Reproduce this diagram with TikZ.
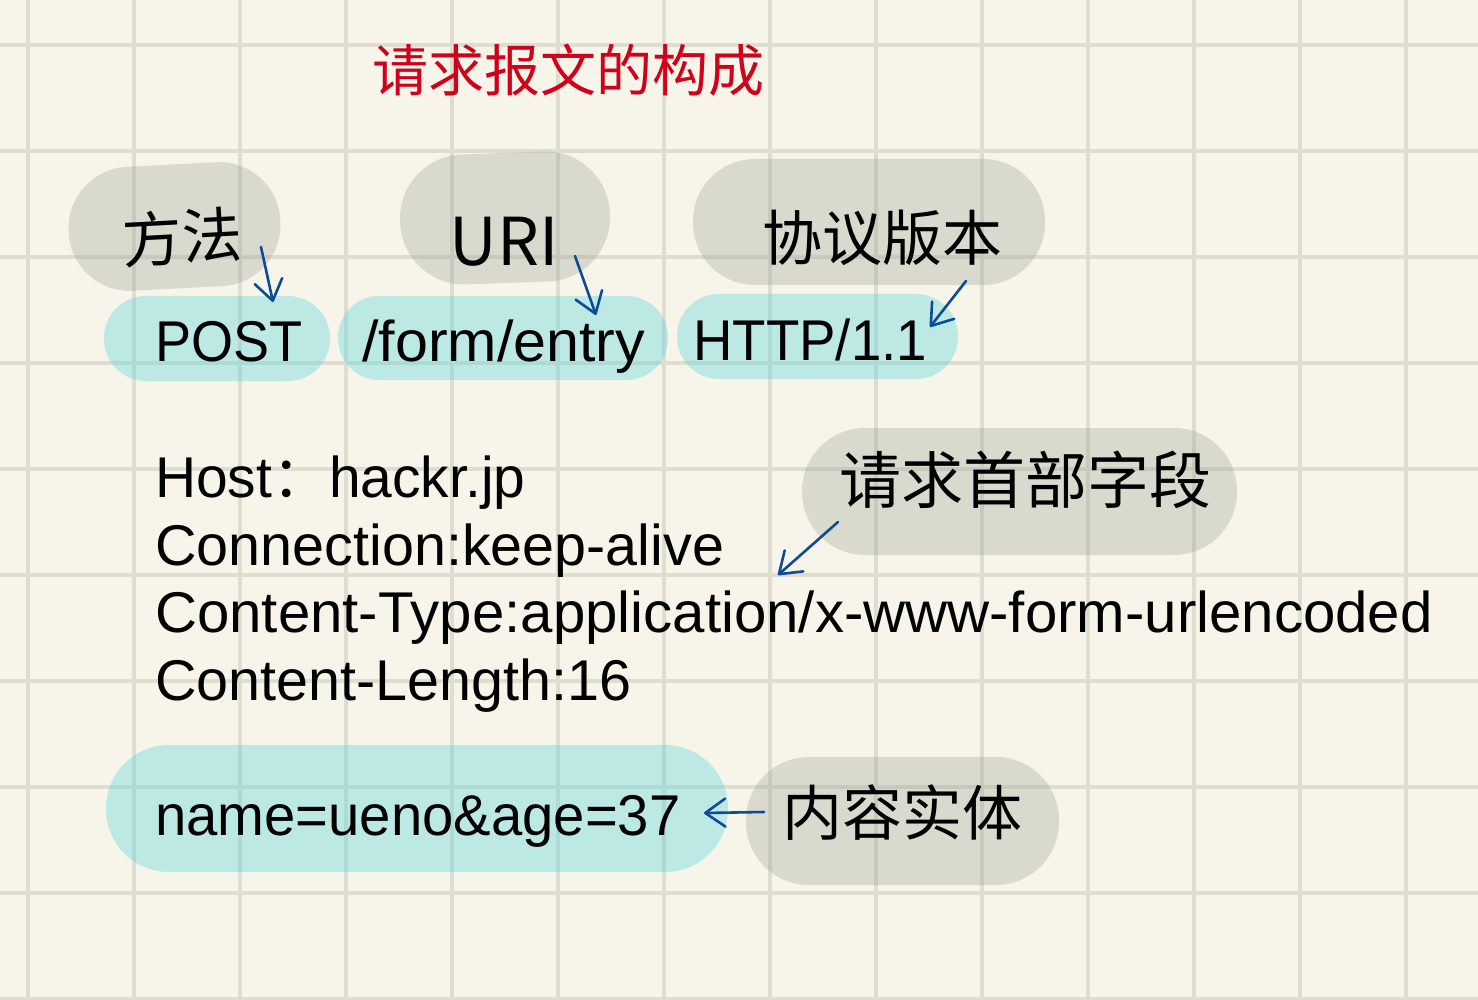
\documentclass[tikz,border=0pt]{standalone}
\usepackage{fontspec}
\setmainfont{Liberation Sans}
\newfontfamily\cjk{Noto Sans CJK SC}
\usetikzlibrary{arrows.meta}
\definecolor{bgc}{RGB}{247,245,233}
\definecolor{gridc}{RGB}{221,221,208}
\definecolor{grayp}{RGB}{150,156,143}
\definecolor{cyanp}{RGB}{102,215,225}
\definecolor{titlered}{RGB}{208,2,27}
\definecolor{penblue}{RGB}{14,75,150}
\begin{document}
\begin{tikzpicture}[x=1pt,y=-1pt,
  gridline/.style={draw=gridc, line width=3.4pt},
  gpill/.style={fill=grayp, fill opacity=0.3, draw=none, inner sep=0pt},
  cpill/.style={fill=cyanp, fill opacity=0.4, draw=none, inner sep=0pt},
  bodytext/.style={anchor=base west, inner sep=0pt, text=black, font=\fontsize{57.5}{60}\selectfont},
  hand/.style={inner sep=0pt, text=black, font=\cjk\fontsize{60}{60}\selectfont},
  penarrow/.style={draw=penblue, line width=2.6pt, line cap=round, line join=round,
    -{Straight Barb[length=20pt, width=28pt, line width=2.6pt, round]}}
]
\useasboundingbox (0,0) rectangle (1478,1000);
\fill[bgc] (0,0) rectangle (1478,1000);
% grid
\foreach \i in {0,...,13} \draw[gridline] ({28+106*\i},0) -- ({28+106*\i},1000);
\foreach \j in {0,...,9} \draw[gridline] (0,{45+106*\j}) -- (1478,{45+106*\j});

% title
\node[inner sep=0pt, text=titlered, font=\cjk\fontsize{56}{56}\selectfont] (title) at (568,70) {请求报文的构成};

% gray pills
\node[gpill, minimum width=212pt, minimum height=124pt, rounded corners=61pt, rotate=3] (g1) at (174.5,226.5) {};
\node[gpill, minimum width=210pt, minimum height=130pt, rounded corners=64pt, rotate=2] (g2) at (505,218) {};
\node[gpill, minimum width=352pt, minimum height=126pt, rounded corners=62pt] (g3) at (869,222) {};
\node[gpill, minimum width=435pt, minimum height=127pt, rounded corners=63pt] (g4) at (1019.5,491.5) {};
\node[gpill, minimum width=313pt, minimum height=128pt, rounded corners=63pt] (g5) at (902.5,821) {};

% cyan pills
\node[cpill, minimum width=226pt, minimum height=85pt, rounded corners=42pt] (c1) at (217,338.5) {};
\node[cpill, minimum width=330pt, minimum height=84pt, rounded corners=41.5pt] (c2) at (503,338) {};
\node[cpill, minimum width=281pt, minimum height=85pt, rounded corners=42pt] (c3) at (817.5,336.5) {};
\node[cpill, minimum width=622pt, minimum height=127pt, rounded corners=63pt] (c4) at (417,808.5) {};

% request line
\node[bodytext, xscale=0.94] (post) at (155,361) {POST};
\node[bodytext, xscale=1.03] (uri) at (362,361) {/form/entry};
\node[bodytext, xscale=0.95] (ver) at (693,360) {HTTP/1.1};

% header fields
\node[bodytext, xscale=0.99] (h1) at (155,497) {Host{\cjk ：}hackr.jp};
\node[bodytext] (h2) at (155,565) {Connection:keep-alive};
\node[bodytext, xscale=1.012] (h3) at (155,632) {Content-Type:application/x-www-form-urlencoded};
\node[bodytext] (h4) at (155,700) {Content-Length:16};

% body
\node[bodytext, xscale=0.978] (body) at (155,835) {name=ueno\&age=37};

% handwritten labels
\node[hand, rotate=3] (l1) at (182,237) {方法};
\node[hand, font=\cjk\fontsize{66}{66}\selectfont] (l2) at (504,242) {URI};
\node[hand] (l3) at (882,238) {协议版本};
\node[hand, font=\cjk\fontsize{62}{62}\selectfont] (l4) at (1025,480) {请求首部字段};
\node[hand] (l5) at (902,813) {内容实体};

% arrow end points
\coordinate (a1s) at (261,247);
\coordinate (a1e) at (273,302);
\coordinate (a2s) at (575,256);
\coordinate (a2e) at (596,315);
\coordinate (a3s) at (966,281);
\coordinate (a3e) at (930,327);
\coordinate (a4s) at (838,522);
\coordinate (a4e) at (778,575);
\coordinate (a5s) at (764,812);
\coordinate (a5e) at (704,813);

\draw[penarrow] (a1s) -- (a1e);
\draw[penarrow] (a2s) -- (a2e);
\draw[penarrow] (a3s) -- (a3e);
\draw[penarrow] (a4s) -- (a4e);
\draw[penarrow] (a5s) -- (a5e);
\end{tikzpicture}
\end{document}
